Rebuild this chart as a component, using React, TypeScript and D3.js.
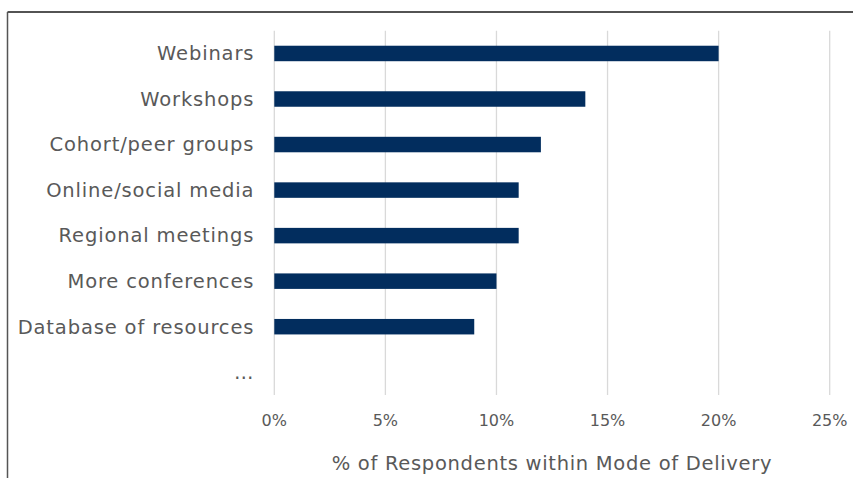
import React, { useEffect, useRef } from "react";
import * as d3 from "d3";

const categories = [
  "Webinars",
  "Workshops",
  "Cohort/peer groups",
  "Online/social media",
  "Regional meetings",
  "More conferences",
  "Database of resources",
  "…",
];
const values = [20, 14, 12, 11, 11, 10, 9, 0];
const tickValues = [0, 5, 10, 15, 20, 25];
const axisTitle = "% of Respondents within Mode of Delivery";

const W = 853;
const H = 478;
const FONT = "'Century Gothic', 'DejaVu Sans', sans-serif";
const TEXT = "#595959";

export default function App() {
  const ref = useRef<SVGSVGElement>(null);
  useEffect(() => {
    const svg = d3.select(ref.current);
    svg.selectAll("*").remove();
    const left = 274.3, right = 829.7, top = 30.7, bottom = 395;
    const x = d3.scaleLinear().domain([0, 25]).range([left, right]);
    const y = d3.scaleBand().domain(categories).range([top, bottom]).paddingInner(0.66).paddingOuter(0.33);

    svg.append("rect").attr("width", W).attr("height", H).attr("fill", "#fff");
    // frame
    svg.append("line").attr("x1", 7.5).attr("x2", W).attr("y1", 12).attr("y2", 12).attr("stroke", "#1a1a1a").attr("stroke-width", 1.5);
    svg.append("line").attr("x1", 7.5).attr("x2", 7.5).attr("y1", 12).attr("y2", H).attr("stroke", "#555").attr("stroke-width", 1.5);

    svg.append("g").selectAll("line").data(tickValues).join("line")
      .attr("x1", d => x(d)).attr("x2", d => x(d))
      .attr("y1", top).attr("y2", bottom)
      .attr("stroke", "#d9d9d9").attr("stroke-width", 1.3);

    svg.append("g").selectAll("rect").data(categories).join("rect")
      .attr("x", x(0))
      .attr("y", d => y(d)!)
      .attr("width", (d, i) => x(values[i]) - x(0))
      .attr("height", y.bandwidth())
      .attr("fill", "#022d5e");

    svg.append("g").selectAll("text").data(categories).join("text")
      .attr("x", x(0) - 20)
      .attr("y", d => y(d)! + y.bandwidth() / 2)
      .attr("dy", "0.35em")
      .attr("text-anchor", "end")
      .attr("font-family", FONT).attr("font-size", 19.5).attr("letter-spacing", 0.85).attr("fill", TEXT)
      .text(d => d);

    svg.append("g").selectAll("text").data(tickValues).join("text")
      .attr("x", d => x(d))
      .attr("y", 420)
      .attr("dy", "0.35em")
      .attr("text-anchor", "middle")
      .attr("font-family", FONT).attr("font-size", 16).attr("fill", TEXT)
      .text(d => d + "%");

    svg.append("text")
      .attr("x", 552).attr("y", 463).attr("dy", "0.35em")
      .attr("text-anchor", "middle")
      .attr("font-family", FONT).attr("font-size", 19.5).attr("letter-spacing", 0.7).attr("fill", TEXT)
      .text(axisTitle);
  }, []);
  return (
    <svg ref={ref} width={W} height={H} style={{ display: "block", position: "absolute", left: 0, top: 0 }} />
  );
}
